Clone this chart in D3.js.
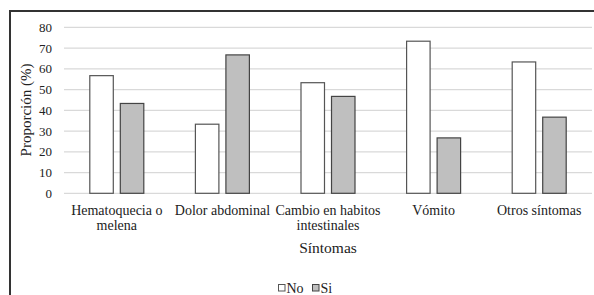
<!DOCTYPE html>
<html><head><meta charset="utf-8">
<script src="https://cdn.jsdelivr.net/npm/d3@7"></script>
<style>body{margin:0;background:#fff}svg{display:block}svg text{font-family:"Liberation Serif","Times New Roman",serif;fill:#222}</style>
</head><body><svg id="c" width="594" height="295"></svg>
<script>
const categories = [["Hematoquecia o","melena"],["Dolor abdominal"],["Cambio en habitos","intestinales"],["Vómito"],["Otros síntomas"]];
const seriesNames = ["No","Si"];
const noValues = [56.7,33.3,53.3,73.3,63.3];
const siValues = [43.3,66.7,46.7,26.7,36.7];
const yTicks = [0,10,20,30,40,50,60,70,80];
const yTitle = "Proporción (%)";
const xTitle = "Síntomas";

const svg = d3.select("#c");
svg.append("rect").attr("x",10).attr("y",11).attr("width",600).attr("height",300)
  .attr("fill","#fff").attr("stroke","#333").attr("stroke-width",2);

const x = d3.scaleBand().domain(d3.range(categories.length)).range([64,592]);
const xs = d3.scaleBand().domain(seriesNames).range([0,54]).paddingInner(0.23);
const y = d3.scaleLinear().domain([0,80]).range([193.3,27.3]);

const g = svg.append("g");
g.selectAll("line.grid").data(yTicks).join("line")
  .attr("x1",64).attr("x2",592).attr("y1",d=>y(d)).attr("y2",d=>y(d))
  .attr("stroke","#d9d9d9").attr("stroke-width",1.3);

g.selectAll("text.yt").data(yTicks).join("text")
  .attr("x",52).attr("y",d=>y(d)).attr("dy","0.35em").attr("text-anchor","end")
  .attr("font-size",13).text(d=>d);

const data = [];
categories.forEach((c,i)=>{
  data.push({i,s:"No",v:noValues[i]});
  data.push({i,s:"Si",v:siValues[i]});
});
const off = (x.bandwidth()-54)/2;
g.selectAll("rect.bar").data(data).join("rect")
  .attr("x",d=>x(d.i)+off+xs(d.s)).attr("width",xs.bandwidth())
  .attr("y",d=>y(d.v)).attr("height",d=>y(0)-y(d.v))
  .attr("fill",d=>d.s==="No"?"#fff":"#bfbfbf")
  .attr("stroke",d=>d.s==="No"?"#555":"#444").attr("stroke-width",1.2);

const xl = g.selectAll("text.xl").data(categories).join("text")
  .attr("text-anchor","middle").attr("font-size",14)
  .attr("transform",(d,i)=>`translate(${x(i)+x.bandwidth()/2},215)`);
xl.selectAll("tspan").data(d=>d).join("tspan")
  .attr("x",0).attr("dy",(d,j)=>j===0?0:15).text(d=>d);

svg.append("text").attr("transform",`translate(31,110) rotate(-90)`)
  .attr("text-anchor","middle").attr("font-size",15).text(yTitle);
svg.append("text").attr("x",(64+592)/2).attr("y",253)
  .attr("text-anchor","middle").attr("font-size",15.5).text(xTitle);

const legX = [278,312];
const lg = svg.selectAll("g.leg").data(seriesNames).join("g").attr("transform",(d,i)=>`translate(${legX[i]},288)`);
lg.append("rect").attr("x",0.5).attr("y",-3.5).attr("width",6.5).attr("height",6.5)
  .attr("fill",d=>d==="No"?"#fff":"#bfbfbf").attr("stroke",d=>d==="No"?"#555":"#444").attr("stroke-width",1);
lg.append("text").attr("x",8.5).attr("dy","0.35em").attr("font-size",14).text(d=>d);
</script></body></html>
